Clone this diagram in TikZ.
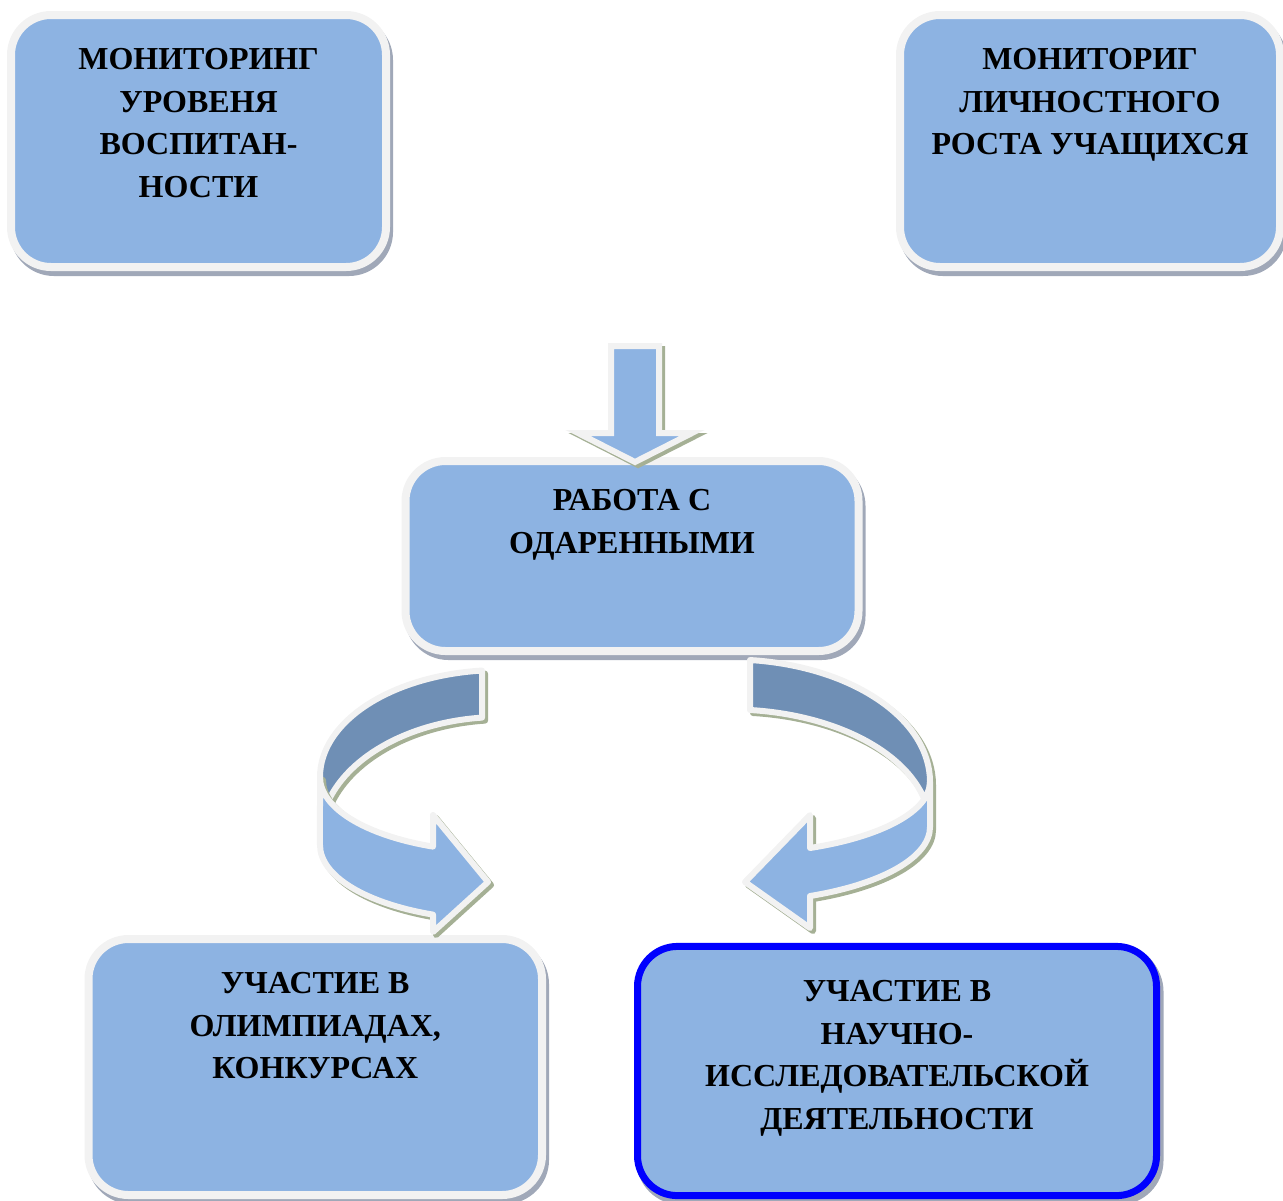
\documentclass[tikz,border=0pt]{standalone}
\usepackage{fontspec}
\setmainfont{Liberation Serif}
\usetikzlibrary{positioning,shadows}

\definecolor{boxblue}{RGB}{141,179,226}
\definecolor{bandblue}{RGB}{111,143,181}
\definecolor{rimgray}{RGB}{242,242,242}
\definecolor{boxshade}{RGB}{160,168,184}
\definecolor{arrowshade}{RGB}{165,176,149}

\begin{document}
\begin{tikzpicture}[x=0.5pt,y=-0.5pt,
    panel/.style={rectangle, rounded corners=20pt, fill=boxblue, draw=rimgray, line width=4pt,
      inner sep=0pt, outer sep=0pt,
      drop shadow={shadow xshift=1.5pt, shadow yshift=-2.5pt, opacity=1, fill=boxshade, draw=boxshade, line width=4pt}},
    caption/.style={font=\fontsize{16}{21.25}\selectfont\bfseries, align=center, inner sep=0pt},
    ribbon/.style={draw=rimgray, line width=3pt,
      drop shadow={shadow xshift=1.5pt, shadow yshift=-1.5pt, opacity=1, fill=arrowshade, draw=arrowshade, line width=3pt}}]
  \useasboundingbox (0,0) rectangle (1283,1200);

  % monitoring boxes
  \node[panel, minimum width=187.5pt, minimum height=126pt] (monvosp) at (198.5,141) {};
  \node[caption, below=16.5pt of monvosp.north] (monvosptxt) {МОНИТОРИНГ\\УРОВЕНЯ\\ВОСПИТАН-\\НОСТИ};
  \node[panel, minimum width=190pt, minimum height=126pt] (monrost) at (1090,141) {};
  \node[caption, below=16.5pt of monrost.north] (monrosttxt) {МОНИТОРИГ\\ЛИЧНОСТНОГО\\РОСТА УЧАЩИХСЯ};

  % gifted pupils
  \node[panel, minimum width=226.5pt, minimum height=95pt] (odar) at (632,556) {};
  \node[caption, below=14pt of odar.north] (odartxt) {РАБОТА С\\ОДАРЕННЫМИ};

  % participation
  \node[panel, minimum width=226.75pt, minimum height=128pt] (olimp) at (315.25,1067) {};
  \node[caption, below=16.5pt of olimp.north] (olimptxt) {УЧАСТИЕ В\\ОЛИМПИАДАХ,\\КОНКУРСАХ};
  \node[panel, draw=blue, line width=3.5pt, minimum width=259.5pt, minimum height=124.6pt,
    drop shadow={shadow xshift=1pt, shadow yshift=-1pt, opacity=1, fill=boxshade, draw=boxshade, line width=3.5pt}] (nauka) at (897,1071) {};
  \node[caption, below=16.75pt of nauka.north] (naukatxt) {УЧАСТИЕ В\\НАУЧНО-\\ИССЛЕДОВАТЕЛЬСКОЙ\\ДЕЯТЕЛЬНОСТИ};

  % arrow into odar
  \begin{scope}[shift={(odar.north)}]
    \path[ribbon, fill=boxblue] (-21,-115) -- (27,-115) -- (27,-28) -- (60,-28) -- (3,1)
      -- (-54,-28) -- (-21,-28) -- cycle;
  \end{scope}

  % curved arrows out of odar
  \begin{scope}[shift={(odar.south)}, line join=round]
    \path[ribbon, fill=bandblue] (-132,126) ++(264.26:180 and 107)
      arc[start angle=264.26, end angle=180, x radius=180, y radius=107]
      arc[start angle=180, end angle=162.08, x radius=180, y radius=75]
      arc[start angle=197.92, end angle=264.26, x radius=180, y radius=120] -- cycle;
    \path[ribbon, fill=boxblue] (-132,126) ++(180:180 and 75)
      arc[start angle=180, end angle=111.85, x radius=180, y radius=75]
      -- (-199,164) -- (-144,231) -- (-199,281) -- (-199,263.6)
      arc[start angle=111.85, end angle=180, x radius=180, y radius=75] -- cycle;

    \path[ribbon, fill=bandblue] (98,131) ++(275.74:200 and 122.6)
      arc[start angle=275.74, end angle=360, x radius=200, y radius=122.6]
      arc[start angle=0, end angle=13.73, x radius=200, y radius=72]
      arc[start angle=346.27, end angle=275.74, x radius=200, y radius=117.6] -- cycle;
    \path[ribbon, fill=boxblue] (98,131) ++(0:200 and 72)
      arc[start angle=0, end angle=66.42, x radius=200, y radius=72]
      -- (178,164) -- (113,231) -- (178,277) -- (178,245)
      arc[start angle=66.42, end angle=0, x radius=200, y radius=75.3] -- cycle;
  \end{scope}
\end{tikzpicture}
\end{document}
